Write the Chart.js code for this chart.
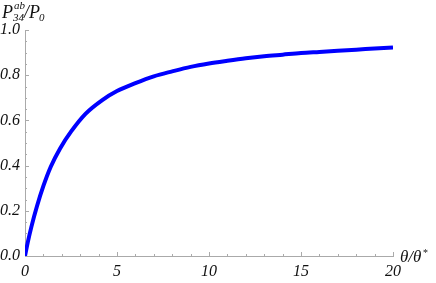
<!DOCTYPE html>
<html lang="en">
<head>
    <meta charset="UTF-8">
    <title>P34ab / P0</title>
    <script src="https://cdn.jsdelivr.net/npm/chart.js"></script>
    <style>
        body { margin: 0; background: #fff; }
    </style>
</head>
<body>

<div style="width: 436px; height: 283px;">
    <canvas id="chart"></canvas>
</div>

<script>
    // values
    const thetaRatio = [0, 0.15, 0.35, 0.65, 1, 1.4, 1.9, 2.5, 3.3, 4.2, 5, 6, 7, 8, 9, 10, 11, 12, 13, 14, 15, 16, 17, 18, 19, 20];
    const pRatio = [0, 0.06, 0.13, 0.22, 0.31, 0.395, 0.475, 0.55, 0.63, 0.69, 0.73, 0.765, 0.795, 0.817, 0.837, 0.852, 0.864, 0.875, 0.884, 0.891, 0.898, 0.903, 0.908, 0.913, 0.918, 0.923];

    const xMajor = [0, 5, 10, 15, 20];

    const serif = "'Liberation Serif', 'Times New Roman', serif";
    const axisGray = '#aaaaaa';

    const points = thetaRatio.map((x, i) => ({ x: x, y: pRatio[i] }));

    // Mathematica-style ticks: pointing into the plot, majors longer than minors
    const insideTicks = {
        id: 'insideTicks',
        beforeDatasetsDraw(chart) {
            const { ctx, chartArea, scales } = chart;
            ctx.save();
            ctx.strokeStyle = axisGray;
            ctx.lineWidth = 1;
            ctx.beginPath();
            for (let v = 0; v <= 20; v += 1) {
                const px = Math.round(scales.x.getPixelForValue(v)) + 0.5;
                const len = xMajor.includes(v) ? 4 : 2;
                ctx.moveTo(px, chartArea.bottom);
                ctx.lineTo(px, chartArea.bottom - len);
            }
            for (let k = 0; k <= 20; k++) {
                const py = Math.round(scales.y.getPixelForValue(k * 0.05)) + 0.5;
                const len = (k % 4 === 0) ? 4 : 2;
                ctx.moveTo(chartArea.left, py);
                ctx.lineTo(chartArea.left + len, py);
            }
            ctx.stroke();
            ctx.restore();
        }
    };

    // axis labels with sub/superscripts
    const axisLabels = {
        id: 'axisLabels',
        afterDraw(chart) {
            const { ctx, chartArea } = chart;
            ctx.save();
            ctx.fillStyle = '#111';
            ctx.textBaseline = 'alphabetic';
            ctx.textAlign = 'left';

            // y label: P^{ab}_{34}/P_0
            const big = 'italic 18px ' + serif;
            const small = 'italic 11px ' + serif;
            ctx.font = big;
            ctx.fillText('P', 2, 18);
            ctx.font = small;
            ctx.fillText('ab', 14, 9);
            ctx.fillText('34', 13, 21);
            ctx.font = big;
            ctx.fillText('/P', 24, 18);
            ctx.font = small;
            ctx.fillText('0', 39, 21);

            // x label: θ/θ*
            ctx.font = 'italic 17px ' + serif;
            const base = chartArea.bottom + 6;
            ctx.fillText('θ/θ', 400, base);
            const w = ctx.measureText('θ/θ').width;
            ctx.font = 'italic 10px ' + serif;
            ctx.fillText('*', 400 + w + 1, base - 6);
            ctx.restore();
        }
    };

    const ctx = document.getElementById('chart').getContext('2d');
    new Chart(ctx, {
        type: 'line',
        data: {
            datasets: [{
                data: points,
                borderColor: '#0000ff',
                borderWidth: 4,
                pointRadius: 0,
                fill: false,
                cubicInterpolationMode: 'monotone'
            }]
        },
        options: {
            responsive: true,
            maintainAspectRatio: false,
            animation: false,
            layout: {
                padding: { top: 30, right: 43, left: 0, bottom: 0 }
            },
            plugins: {
                legend: { display: false },
                tooltip: { enabled: false }
            },
            scales: {
                x: {
                    type: 'linear',
                    min: 0,
                    max: 20,
                    grid: { display: false, drawTicks: false },
                    border: { display: true, color: axisGray, width: 1 },
                    ticks: {
                        stepSize: 5,
                        padding: 6,
                        color: '#111',
                        maxRotation: 0,
                        font: { family: serif, style: 'italic', size: 16 }
                    },
                    afterFit(scale) { scale.height = 27; }
                },
                y: {
                    min: 0,
                    max: 1,
                    grid: { display: false, drawTicks: false },
                    border: { display: true, color: axisGray, width: 1 },
                    ticks: {
                        stepSize: 0.2,
                        padding: 5,
                        color: '#111',
                        font: { family: serif, style: 'italic', size: 16 },
                        callback: v => v.toFixed(1)
                    },
                    afterFit(scale) { scale.width = 25; }
                }
            }
        },
        plugins: [insideTicks, axisLabels]
    });
</script>
</body>
</html>
